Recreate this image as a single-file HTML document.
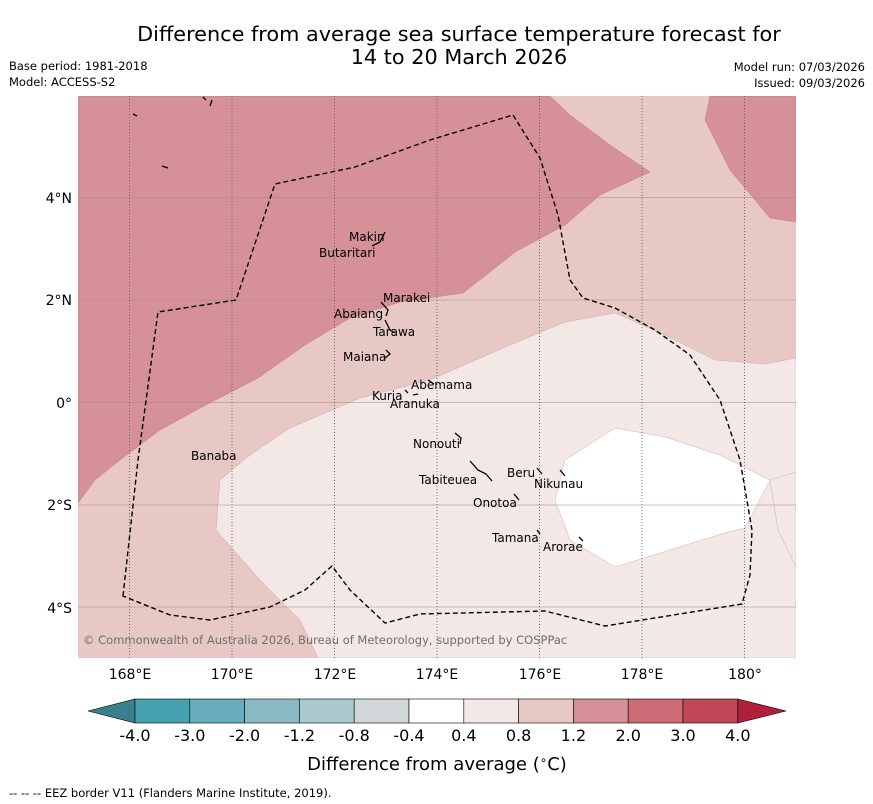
<!DOCTYPE html>
<html><head><meta charset="utf-8">
<style>
body{margin:0;background:#fff;font-family:"Liberation Sans","DejaVu Sans",sans-serif;}
svg{display:block}
text{font-family:"DejaVu Sans","Liberation Sans",sans-serif;}
</style></head>
<body>
<svg width="873" height="804" viewBox="0 0 873 804">
<text x="459" y="41" font-size="20.8" text-anchor="middle">Difference from average sea surface temperature forecast for</text>
<text x="459" y="64" font-size="20.8" text-anchor="middle">14 to 20 March 2026</text>
<text x="9" y="70" font-size="11.5">Base period: 1981-2018</text>
<text x="9" y="86" font-size="11.5">Model: ACCESS-S2</text>
<text x="865" y="71" font-size="11.5" text-anchor="end">Model run: 07/03/2026</text>
<text x="865" y="87" font-size="11.5" text-anchor="end">Issued: 09/03/2026</text>
<defs><clipPath id="mc"><rect x="78" y="96" width="718" height="562"/></clipPath></defs>
<g clip-path="url(#mc)">
<rect x="78" y="96" width="718" height="562" fill="#e8c8c4"/>
<path d="M78,96 L550,96 L570,115 L610,145 L650,172 L600,195 L565,225 L515,252 L490,272 L463,293 L400,302 L350,318 L305,345 L258,378 L200,408 L160,430 L120,460 L95,480 L78,503 Z" fill="#d69097" stroke="#b07078" stroke-width="0.4"/>
<path d="M710,96 L705,120 L730,170 L770,218 L796,222 L796,96 Z" fill="#d69097" stroke="#b07078" stroke-width="0.4"/>
<path d="M220,480 L250,455 L290,428 L360,398 L430,380 L510,345 L565,322 L615,313 L665,335 L715,360 L765,364 L796,358 L796,658 L318,658 L300,620 L260,580 L216,530 Z" fill="#f4e8e6" stroke="#c0a0a0" stroke-width="0.4"/>
<path d="M565,460 L615,428 L665,437 L720,455 L770,480 L745,528 L728,532 L615,567 L570,540 L555,500 Z" fill="#ffffff" stroke="#c0a0a0" stroke-width="0.4"/>
<path d="M770,480 L796,472 M770,480 L778,530 L796,567" fill="none" stroke="#c0a0a0" stroke-width="0.4"/>
<g stroke="#a08888" stroke-width="0.6">
<line x1="78" x2="796" y1="197.5" y2="197.5"/><line x1="78" x2="796" y1="300" y2="300"/><line x1="78" x2="796" y1="402.5" y2="402.5"/><line x1="78" x2="796" y1="505" y2="505"/><line x1="78" x2="796" y1="607" y2="607"/>
</g>
<g stroke="#555" stroke-width="0.8" stroke-dasharray="1,2">
<line y1="96" y2="658" x1="129.5" x2="129.5"/><line y1="96" y2="658" x1="232" x2="232"/><line y1="96" y2="658" x1="334.5" x2="334.5"/><line y1="96" y2="658" x1="437" x2="437"/><line y1="96" y2="658" x1="539.5" x2="539.5"/><line y1="96" y2="658" x1="642" x2="642"/><line y1="96" y2="658" x1="744.5" x2="744.5"/>
</g>
<path d="M123,596 L138,460 L158,312 L236,300 L275,184 L355,167 L430,140 L513,115 L540,158 L558,215 L570,280 L583,298 L615,308 L655,330 L690,355 L720,400 L740,460 L752,530 L750,575 L742,604 L605,626 L545,611 L420,614 L385,623 L350,590 L332,566 L305,590 L270,607 L210,620 L170,615 Z" fill="none" stroke="#000" stroke-width="1.4" stroke-dasharray="5,3"/>
<g fill="none" stroke="#000" stroke-width="1.3">
<path d="M372,246 L380,242 L385,232"/><path d="M381,302 L388,310 L386,316"/><path d="M385,320 L390,330 L395,333"/><path d="M386,350 L390,354 L385,358"/><path d="M428,380 L434,384"/><path d="M455,433 L461,438 L460,444"/><path d="M470,461 L478,470 L486,474 L492,481"/><path d="M514,494 L519,500"/><path d="M537,468 L542,474"/><path d="M560,470 L565,476"/><path d="M537,530 L540,534"/><path d="M579,537 L583,541"/><path d="M405,390 L408,393 M413,395 L418,394"/><path d="M133,114 L137,116 M162,166 L168,168 M203,97 L206,100 M212,100 L210,106"/>
</g>
<g font-size="12" fill="#000">
<text x="349" y="241">Makin</text><text x="319" y="257">Butaritari</text><text x="383" y="302">Marakei</text><text x="334" y="318">Abaiang</text><text x="373" y="336">Tarawa</text><text x="343" y="361">Maiana</text><text x="411" y="389">Abemama</text><text x="372" y="400">Kuria</text><text x="390" y="408">Aranuka</text><text x="413" y="448">Nonouti</text><text x="191" y="460">Banaba</text><text x="419" y="484">Tabiteuea</text><text x="507" y="477">Beru</text><text x="534" y="488">Nikunau</text><text x="473" y="507">Onotoa</text><text x="492" y="542">Tamana</text><text x="543" y="551">Arorae</text>
</g>
<text x="83" y="644" font-size="11.5" fill="#6e6e6e">© Commonwealth of Australia 2026, Bureau of Meteorology, supported by COSPPac</text>
</g>
<g font-size="14" fill="#000">
<text x="72" y="203" text-anchor="end">4°N</text><text x="72" y="305" text-anchor="end">2°N</text><text x="72" y="408" text-anchor="end">0°</text><text x="72" y="510" text-anchor="end">2°S</text><text x="72" y="613" text-anchor="end">4°S</text>
</g>
<g font-size="14" fill="#000" text-anchor="middle">
<text x="130" y="679">168°E</text><text x="232" y="679">170°E</text><text x="335" y="679">172°E</text><text x="437" y="679">174°E</text><text x="540" y="679">176°E</text><text x="642" y="679">178°E</text><text x="745" y="679">180°</text>
</g>
<g id="cbar"></g>
<text x="437" y="770" font-size="18" text-anchor="middle">Difference from average (<tspan font-size="12" dy="-6">∘</tspan><tspan dy="6">C)</tspan></text>
<text x="9" y="797" font-size="11.5">--  --  -- EEZ border V11 (Flanders Marine Institute, 2019).</text>
</svg>
<script>
const cbLabels=["-4.0","-3.0","-2.0","-1.2","-0.8","-0.4","0.4","0.8","1.2","2.0","3.0","4.0"];
const cbColors=["#45a0b0","#67adbb","#8bbac4","#aacacd","#d1d6d8","#ffffff","#f4e8e6","#e8c8c4","#d69097","#cc6b75","#c04555"];
const svgns="http://www.w3.org/2000/svg";
const g=document.getElementById('cbar');
const x0=135,w=54.8,y0=699,h=24;
function mk(t,a){const e=document.createElementNS(svgns,t);for(const k in a)e.setAttribute(k,a[k]);g.appendChild(e);return e;}
const lt=mk('polygon',{points:`${x0},${y0} ${x0},${y0+h} 88,${y0+h/2}`,fill:'#3a7f8c',stroke:'#000','stroke-width':0.6});


const xr=x0+w*cbColors.length;
const rt=mk('polygon',{points:`${xr},${y0} ${xr},${y0+h} 786,${y0+h/2}`,fill:'#b0203a',stroke:'#000','stroke-width':0.6});


cbColors.forEach((c,i)=>{const r=mk('rect',{x:x0+i*w,y:y0,width:w,height:h,fill:c,stroke:'#000','stroke-width':0.6});

});
cbLabels.forEach((l,i)=>{const t=mk('text',{x:x0+i*w,y:741,'font-size':16,'text-anchor':'middle'});t.textContent=l;

});
</script>
</body></html>
